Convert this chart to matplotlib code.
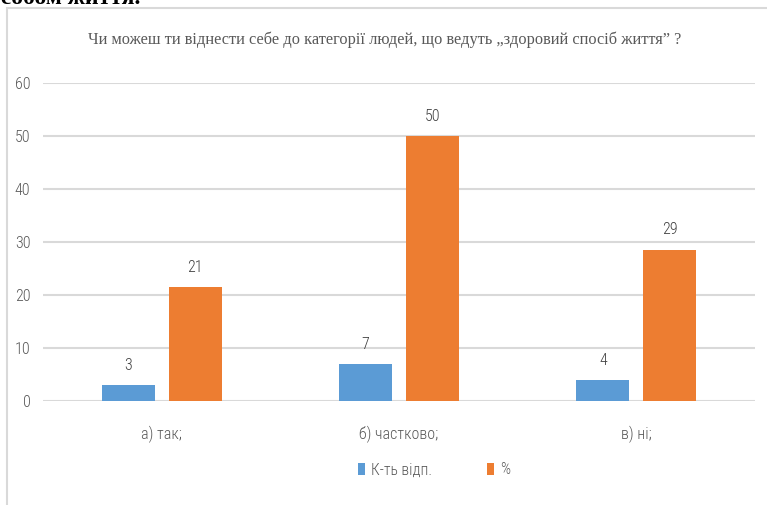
import numpy as np
import matplotlib.pyplot as plt
from matplotlib.patches import Rectangle

categories = ["а) так;", "б) частково;", "в) ні;"]
count = [3, 7, 4]
percent = [21.43, 50.0, 28.57]
series_names = ["К-ть відп.", "%"]
yticks = [0, 10, 20, 30, 40, 50, 60]

blue = "#5b9bd5"
orange = "#ed7d31"
grey_txt = "#595959"
narrow = ["Roboto Condensed", "Liberation Sans Narrow", "DejaVu Sans"]
stretch = "condensed"

W, H = 767, 505
fig = plt.figure(figsize=(W / 100, H / 100), dpi=100)

# chart frame (only top and left edges fall inside the page)
fig.patches.append(Rectangle((7 / W, -0.1), 1.2, 1.1 - 8 / H,
                             transform=fig.transFigure, fill=False,
                             edgecolor="#d9d9d9", linewidth=1.5))

# tail of the document line above the chart
fig.text(140 / W, 1 - 4 / H, "способом життя.", ha="right", va="baseline",
         family=["Liberation Serif", "DejaVu Serif"], fontsize=17,
         fontweight="bold", color="black")

ax = fig.add_axes([43 / W, (H - 401) / H, (755 - 43) / W, (401 - 83) / H])
x = np.arange(len(categories))
w = 0.224
off = 0.141

b1 = ax.bar(x - off, count, w, color=blue, label=series_names[0], zorder=3)
b2 = ax.bar(x + off, percent, w, color=orange, label=series_names[1], zorder=3)

for bars in (b1, b2):
    for r in bars:
        v = r.get_height()
        ax.text(r.get_x() + r.get_width() / 2, v + 2.3, "%.0f" % v,
                ha="center", va="bottom", fontsize=11.5, color="#404040",
                family=narrow, fontstretch=stretch, fontweight="light")

ax.set_xlim(-0.5, 2.5)
ax.set_ylim(0, 60)
ax.set_yticks(yticks)
ax.set_xticks(x)
ax.set_xticklabels(categories)
ax.grid(axis="y", color="#d9d9d9", linewidth=1.5, zorder=0)
for s in ax.spines.values():
    s.set_visible(False)
ax.tick_params(axis="both", length=0, labelsize=11.5, labelcolor=grey_txt)
ax.tick_params(axis="y", pad=9)
ax.tick_params(axis="x", pad=18)
for t in ax.get_xticklabels() + ax.get_yticklabels():
    t.set_family(narrow)
    t.set_fontstretch(stretch)
    t.set_fontweight("light")

fig.text(385 / W, 1 - 40 / H,
         "Чи можеш ти віднести себе до категорії людей, що ведуть „здоровий спосіб життя” ?",
         ha="center", va="center", fontsize=11.8, color=grey_txt,
         family=["Liberation Serif", "DejaVu Serif"])

leg = fig.legend(handles=[b1, b2], labels=series_names, loc="center",
                 bbox_to_anchor=(434 / W, 1 - 470 / H), ncol=2, frameon=False,
                 handlelength=0.45, handleheight=0.8, handletextpad=0.4,
                 columnspacing=3.5,
                 prop={"family": narrow, "size": 11.3, "stretch": stretch,
                       "weight": "light"})
for t in leg.get_texts():
    t.set_color(grey_txt)

fig.savefig("out.png", dpi=100)
